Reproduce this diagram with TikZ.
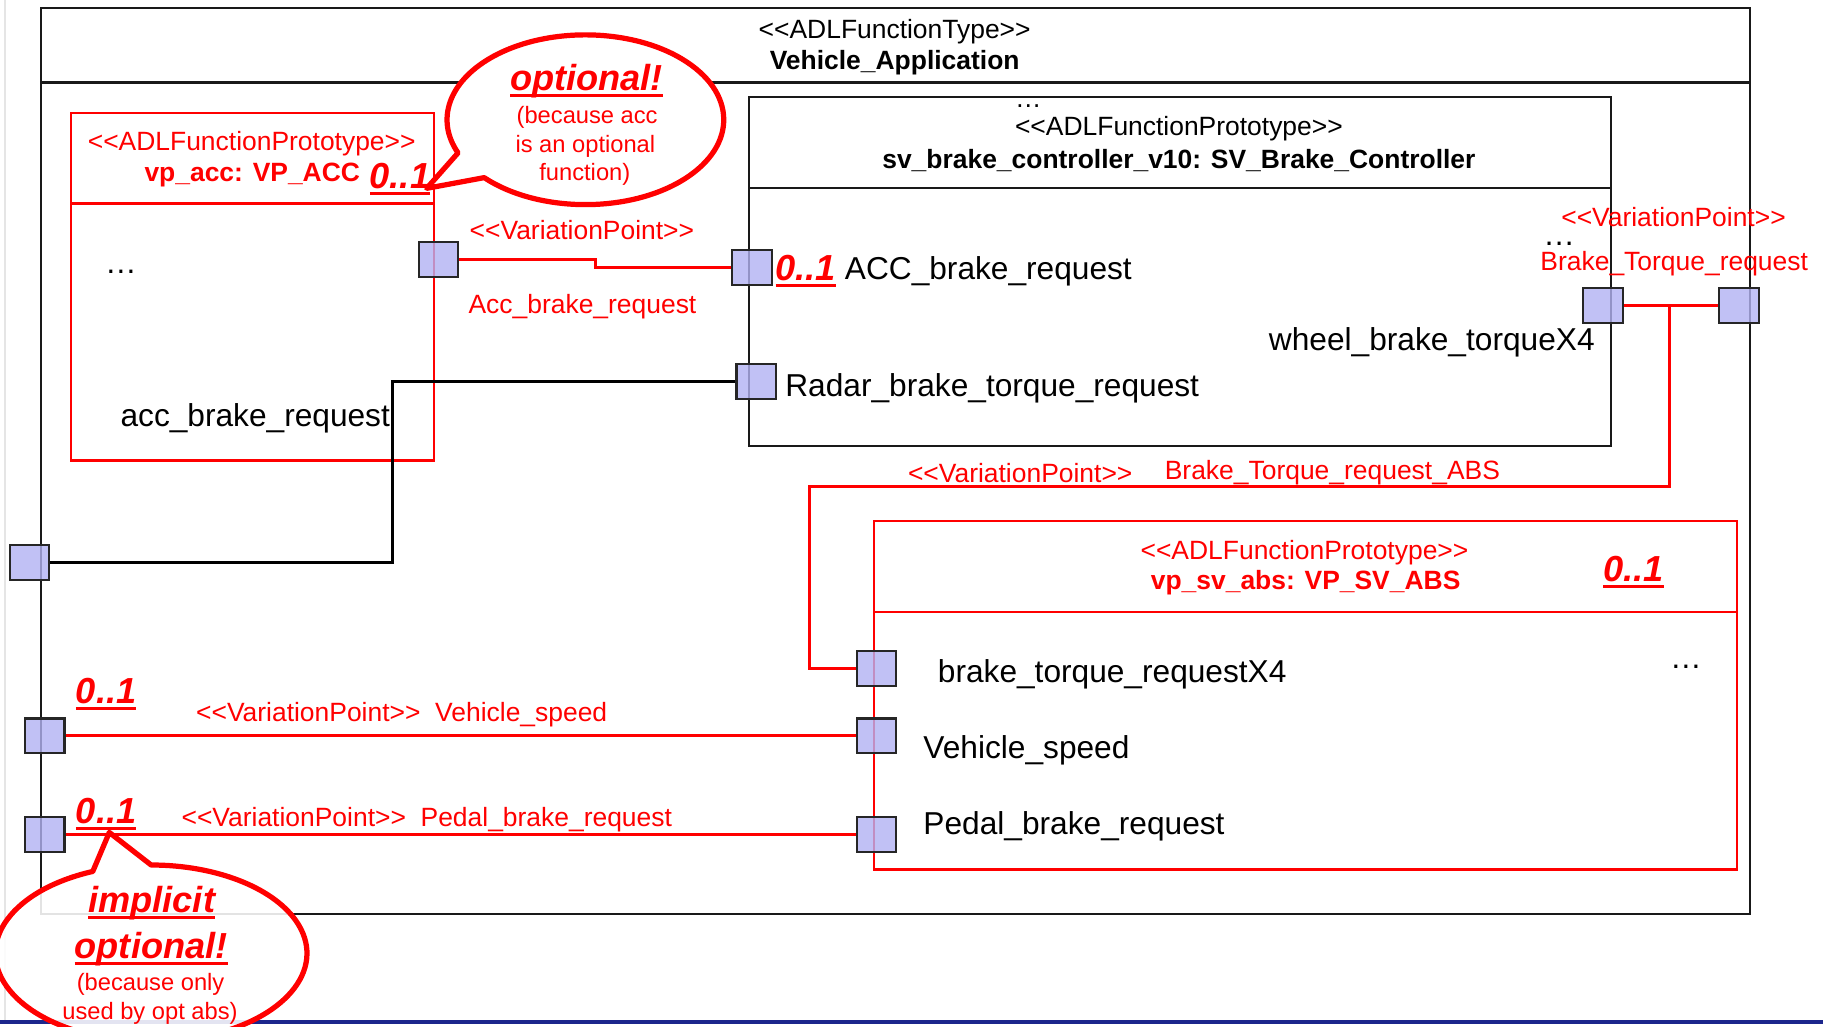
\documentclass[tikz,border=0pt]{standalone}
\usepackage{fontspec}
\setmainfont{Liberation Sans}
\definecolor{vpred}{RGB}{255,0,0}
\definecolor{portfill}{RGB}{178,178,242}
\definecolor{slideblue}{RGB}{28,38,140}
\newcommand{\stt}[1]{<{}<#1>{}>}
\newsavebox{\ulbox}
\newcommand{\ulmark}[1]{\sbox{\ulbox}{#1}\rlap{\usebox{\ulbox}}\rule[-1.75pt]{\wd\ulbox}{0.85pt}}
\tikzset{
  typebox/.style={draw=black!90, line width=0.018cm},
  redbox/.style={draw=vpred, line width=0.02cm},
  port/.style={draw=black!85, fill=portfill, fill opacity=0.8, line width=0.018cm,
    minimum width=0.34cm, minimum height=0.30cm, inner sep=0pt},
  redlink/.style={draw=vpred, line width=0.025cm},
  blacklink/.style={draw=black, line width=0.025cm},
  bubble/.style={draw=vpred, fill=white, line width=0.045cm, line join=round},
  lbl/.style={inner sep=0pt, font=\fontsize{7.75}{9}\selectfont},
  stereo/.style={inner sep=0pt, font=\fontsize{6.47}{7.8}\selectfont},
  stereobf/.style={inner sep=0pt, font=\fontsize{6.47}{7.8}\selectfont\bfseries},
  mult/.style={inner sep=0pt, anchor=base, text=vpred, font=\fontsize{8.86}{10}\selectfont\bfseries\itshape},
  note/.style={inner sep=0pt, anchor=base, text=vpred, font=\fontsize{5.8}{7}\selectfont},
  edgegray/.style={draw=black!10, line width=0.015cm},
  edgeblue/.style={draw=slideblue, line width=0.035cm},
}
\begin{document}
\begin{tikzpicture}
\useasboundingbox (0,0) rectangle (15.680000,8.830000);

% Drawing slide edges
\draw [edgegray] (0.040000,0.060000) -- (0.040000,8.830000);%
\draw [edgeblue] (0.000000,0.040000) -- (15.680000,0.040000);%

% Drawing type Vehicle_Application
\draw [typebox] (0.350000,0.970000) rectangle (15.050000,8.760000);%
\draw [typebox] (0.350000,8.120000) -- (15.050000,8.120000);%
\node (typeStereo) [stereo] at (7.695000,8.560000) {\stt{ADLFunctionType}};%
\node (typeName) [stereobf] at (7.695000,8.290000) {Vehicle\_Application};%

% Drawing prototype vp_acc
\draw [redbox] (0.610000,4.870000) rectangle (3.730000,7.860000);%
\draw [redbox] (0.610000,7.080000) -- (3.730000,7.080000);%
\node (accStereo) [stereo,text=vpred] at (2.165000,7.597000) {\stt{ADLFunctionPrototype}};%
\node (accName) [stereobf,text=vpred] at (2.170000,7.325000) {vp\_acc: VP\_ACC};%
\node (accMult) [mult] at (3.440000,7.210000) {\ulmark{0..1}};%
\node (accDots) [lbl] at (1.040000,6.496000) {\dots};%
\node (accPortLbl) [lbl,anchor=west] at (1.030000,5.233000) {acc\_brake\_request};%

% Drawing prototype sv_brake_controller_v10
\draw [typebox] (6.440000,4.997000) rectangle (13.857000,7.993000);%
\draw [typebox] (6.440000,7.210000) -- (13.857000,7.210000);%
\node (svDots) [stereo] at (8.845000,7.920000) {\dots};%
\node (svStereo) [stereo] at (10.140000,7.726000) {\stt{ADLFunctionPrototype}};%
\node (svName) [stereobf] at (10.140000,7.445000) {sv\_brake\_controller\_v10: SV\_Brake\_Controller};%
\node (svMult) [mult] at (6.930000,6.420000) {\ulmark{0..1}};%
\node (svAccLbl) [lbl,anchor=west] at (7.260000,6.497000) {ACC\_brake\_request};%
\node (radarLbl) [lbl,anchor=west] at (6.748000,5.490000) {Radar\_brake\_torque\_request};%
\node (wheelLbl) [lbl,anchor=east] at (13.723000,5.884000) {wheel\_brake\_torqueX4};%
\node (wheelDots) [lbl] at (13.410000,6.730000) {\dots};%

% Drawing prototype vp_sv_abs
\draw [redbox] (7.515000,1.352000) rectangle (14.938000,4.350000);%
\draw [redbox] (7.515000,3.567000) -- (14.938000,3.567000);%
\node (absStereo) [stereo,text=vpred] at (11.220000,4.080000) {\stt{ADLFunctionPrototype}};%
\node (absName) [stereobf,text=vpred] at (11.230000,3.815000) {vp\_sv\_abs: VP\_SV\_ABS};%
\node (absMult) [mult] at (14.050000,3.830000) {\ulmark{0..1}};%
\node (absTorqueLbl) [lbl,anchor=west] at (8.060000,3.030000) {brake\_torque\_requestX4};%
\node (absDots) [lbl] at (14.500000,3.094000) {\dots};%
\node (absSpeedLbl) [lbl,anchor=west] at (7.936000,2.380000) {Vehicle\_speed};%
\node (absPedalLbl) [lbl,anchor=west] at (7.936000,1.724000) {Pedal\_brake\_request};%

% Marking ports
\node (pAccOut) [port] at (3.770000,6.595000) {};%
\node (pAccIn) [port] at (6.467000,6.530000) {};%
\node (pRadar) [port] at (6.505000,5.550000) {};%
\node (pWheel) [port] at (13.787000,6.200000) {};%
\node (pTorqueOut) [port] at (14.956000,6.200000) {};%
\node (pAccBrake) [port] at (0.255000,3.993000) {};%
\node (pSpeedIn) [port] at (0.385000,2.500000) {};%
\node (pPedalIn) [port] at (0.385000,1.650000) {};%
\node (pAbsTorque) [port] at (7.540000,3.080000) {};%
\node (pAbsSpeed) [port] at (7.540000,2.500000) {};%
\node (pAbsPedal) [port] at (7.540000,1.650000) {};%

% Drawing link Acc_brake_request
\coordinate (accStep) at (5.120000,6.560000);%
\draw [redlink] (pAccOut.east) -| (accStep) |- (pAccIn.west);%
\node (accVp) [stereo,text=vpred] at (5.005000,6.852000) {\stt{VariationPoint}};%
\node (accLink) [stereo,text=vpred] at (5.010000,6.190000) {Acc\_brake\_request};%

% Drawing link Radar_brake_torque_request
\coordinate (radarBend) at (3.377000,3.993000);%
\draw [blacklink] (pRadar.west) -| (radarBend) -- (pAccBrake.east);%

% Drawing link Brake_Torque_request
\draw [redlink] (pWheel.east) -- (pTorqueOut.west);%
\node (torqueVp) [stereo,text=vpred] at (14.394000,6.966000) {\stt{VariationPoint}};%
\node (torqueLink) [stereo,text=vpred] at (14.400000,6.565000) {Brake\_Torque\_request};%

% Drawing link Brake_Torque_request_ABS
\coordinate (torqueSplit) at (14.360000,6.200000);%
\coordinate (absBend) at (6.960000,4.646000);%
\draw [redlink] (torqueSplit) |- (absBend) |- (pAbsTorque.west);%
\node (absVp) [stereo,text=vpred] at (8.775000,4.764000) {\stt{VariationPoint}};%
\node (absLink) [stereo,text=vpred] at (11.460000,4.764000) {Brake\_Torque\_request\_ABS};%

% Drawing link Vehicle_speed
\draw [redlink] (pSpeedIn.east) -- (pAbsSpeed.west);%
\node (speedMult) [mult] at (0.913000,2.783000) {\ulmark{0..1}};%
\node (speedLink) [stereo,text=vpred,anchor=west] at (1.680000,2.680000) {\stt{VariationPoint}\ \ Vehicle\_speed};%

% Drawing link Pedal_brake_request
\draw [redlink] (pPedalIn.east) -- (pAbsPedal.west);%
\node (pedalMult) [mult] at (0.913000,1.750000) {\ulmark{0..1}};%
\node (pedalLink) [stereo,text=vpred,anchor=west] at (1.555000,1.780000) {\stt{VariationPoint}\ \ Pedal\_brake\_request};%

% Drawing callout optional
\filldraw [bubble] (5.035000,7.800000) ++(223:1.190000 and 0.730000) arc (223:563:1.190000 and 0.730000) -- (3.670000,7.210000) -- cycle;%
\node (optA) [mult] at (5.045000,8.055000) {\ulmark{optional!}};%
\node (noteA1) [note] at (5.050000,7.770000) {(because acc};%
\node (noteA2) [note] at (5.035000,7.520000) {is an optional};%
\node (noteA3) [note] at (5.030000,7.280000) {function)};%

% Drawing callout implicit optional
\filldraw [bubble,fill opacity=0.88] (1.300000,0.630000) ++(112:1.340000 and 0.760000) arc (112:450:1.340000 and 0.760000) -- (0.940000,1.670000) -- cycle;%
\node (optB1) [mult] at (1.305000,0.985000) {\ulmark{implicit}};%
\node (optB2) [mult] at (1.300000,0.590000) {\ulmark{optional!}};%
\node (noteB1) [note] at (1.295000,0.310000) {(because only};%
\node (noteB2) [note] at (1.290000,0.063000) {used by opt abs)};%
\end{tikzpicture}
\end{document}
